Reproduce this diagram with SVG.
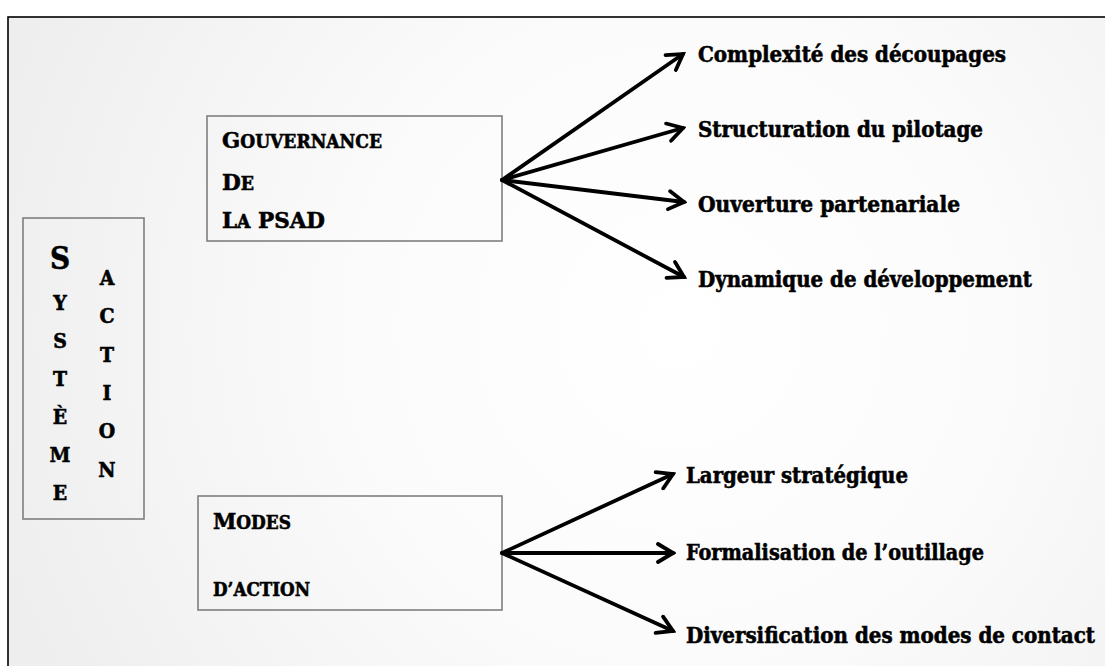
<svg xmlns="http://www.w3.org/2000/svg" width="1105" height="666" viewBox="0 0 1105 666">
  <defs>
    <radialGradient id="bg" cx="680" cy="330" r="720" gradientUnits="userSpaceOnUse">
      <stop offset="0" stop-color="#ffffff"/>
      <stop offset="0.45" stop-color="#fbfbfb"/>
      <stop offset="1" stop-color="#eeeeee"/>
    </radialGradient>
    <marker id="head" viewBox="0 0 22 22" refX="19" refY="11" markerWidth="22" markerHeight="22" markerUnits="userSpaceOnUse" orient="auto">
      <polyline points="4,2 19,11 4,20" fill="none" stroke="#000" stroke-width="3.8" stroke-linecap="round" stroke-linejoin="miter"/>
    </marker>
  </defs>
  <style>
    .box { fill: none; stroke: #7f7f7f; stroke-width: 1.6; }
    .t { font-family: "DejaVu Serif", "Liberation Serif", serif; font-weight: bold; font-stretch: condensed; fill: #000; stroke: #000; stroke-width: 0.55; }
    .lab { font-size: 22px; }
    .big { font-size: 23px; }
    .sc { font-size: 18.5px; }
    .col { font-size: 21px; text-anchor: middle; }
    .arrow { fill: none; stroke: #000; stroke-width: 3.8; stroke-linecap: round; marker-end: url(#head); }
  </style>

  <rect x="0" y="0" width="1105" height="666" fill="#ffffff"/>
  <rect x="8" y="17" width="1110" height="660" fill="url(#bg)" stroke="#000" stroke-width="1.6"/>

  <!-- left column: SYSTÈME / ACTION -->
  <g id="systeme-action">
    <rect class="box" x="23" y="218" width="121" height="301"/>
    <text class="t col" x="60" y="269" style="font-size:31px">S</text>
    <text class="t col" x="60" y="310">Y</text>
    <text class="t col" x="60" y="348">S</text>
    <text class="t col" x="60" y="386">T</text>
    <text class="t col" x="60" y="424">È</text>
    <text class="t col" x="60" y="462">M</text>
    <text class="t col" x="60" y="500">E</text>
    <text class="t col" x="107" y="285">A</text>
    <text class="t col" x="107" y="323">C</text>
    <text class="t col" x="107" y="362">T</text>
    <text class="t col" x="107" y="400">I</text>
    <text class="t col" x="107" y="438">O</text>
    <text class="t col" x="107" y="477">N</text>
  </g>

  <!-- governance node -->
  <g id="gouvernance">
    <rect class="box" x="207" y="116" width="295" height="125"/>
    <text class="t" x="222" y="148" textLength="160" lengthAdjust="spacingAndGlyphs"><tspan class="big">G</tspan><tspan class="sc">OUVERNANCE</tspan></text>
    <text class="t" x="222" y="190" textLength="32" lengthAdjust="spacingAndGlyphs"><tspan class="big">D</tspan><tspan class="sc">E</tspan></text>
    <text class="t" x="222" y="228" textLength="103" lengthAdjust="spacingAndGlyphs"><tspan class="big">L</tspan><tspan class="sc">A</tspan><tspan class="big"> PSAD</tspan></text>
  </g>

  <!-- modes of action node -->
  <g id="modes">
    <rect class="box" x="198" y="496" width="304" height="114"/>
    <text class="t" x="213" y="529" textLength="78" lengthAdjust="spacingAndGlyphs"><tspan class="big">M</tspan><tspan class="sc">ODES</tspan></text>
    <text class="t sc" x="213" y="596" textLength="97" lengthAdjust="spacingAndGlyphs">D’ACTION</text>
  </g>

  <!-- connectors -->
  <g id="connectors">
    <line class="arrow" x1="502" y1="180" x2="683" y2="54"/>
    <line class="arrow" x1="502" y1="180" x2="683" y2="128"/>
    <line class="arrow" x1="502" y1="180" x2="684" y2="202"/>
    <line class="arrow" x1="502" y1="180" x2="684" y2="277"/>
    <line class="arrow" x1="502" y1="553" x2="673" y2="474"/>
    <line class="arrow" x1="502" y1="553" x2="673" y2="553"/>
    <line class="arrow" x1="502" y1="553" x2="673" y2="631"/>
  </g>

  <!-- outcome labels -->
  <g id="label-complexite"><text class="t lab" x="698" y="62" textLength="308" lengthAdjust="spacingAndGlyphs">Complexité des découpages</text></g>
  <g id="label-structuration"><text class="t lab" x="698" y="137" textLength="285" lengthAdjust="spacingAndGlyphs">Structuration du pilotage</text></g>
  <g id="label-ouverture"><text class="t lab" x="698" y="212" textLength="262" lengthAdjust="spacingAndGlyphs">Ouverture partenariale</text></g>
  <g id="label-dynamique"><text class="t lab" x="698" y="287" textLength="334" lengthAdjust="spacingAndGlyphs">Dynamique de développement</text></g>
  <g id="label-largeur"><text class="t lab" x="686" y="483" textLength="222" lengthAdjust="spacingAndGlyphs">Largeur stratégique</text></g>
  <g id="label-formalisation"><text class="t lab" x="686" y="560" textLength="298" lengthAdjust="spacingAndGlyphs">Formalisation de l’outillage</text></g>
  <g id="label-diversification"><text class="t lab" x="686" y="643" textLength="409" lengthAdjust="spacingAndGlyphs">Diversification des modes de contact</text></g>
</svg>
